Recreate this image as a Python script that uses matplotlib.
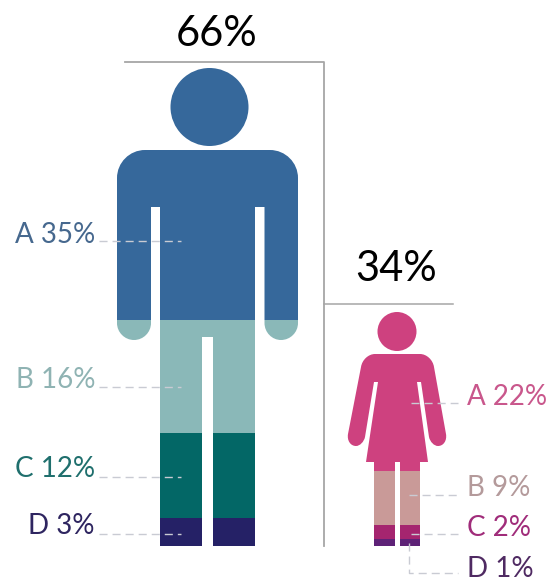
import matplotlib
matplotlib.use("Agg")
import matplotlib.pyplot as plt
from matplotlib.path import Path
from matplotlib.patches import PathPatch

plt.rcParams["font.family"] = ["Lato", "DejaVu Sans"]

# values as printed on the chart
categories = ["A", "B", "C", "D"]
share_men = 66
share_women = 34
men_values = [35, 16, 12, 3]
women_values = [22, 9, 2, 1]

# band edges (top of figure down to the feet)
men_edges = [68, 320, 433, 518, 546]
women_edges = [312, 471, 525, 539, 546]

men_colors = ["#36689B", "#8AB8B8", "#036766", "#252166"]
women_colors = ["#CE417F", "#C99A98", "#A5256F", "#5E2277"]
men_text = ["#46688E", "#8FB3B3", "#1F6F6D", "#2E2560"]
women_text = ["#C9578C", "#B49A9B", "#A02C7A", "#4F2A62"]

K = 0.55


def outline(steps):
    # steps: plain point = line, (corner, end) = rounded corner
    verts = [steps[0]]
    codes = [Path.MOVETO]
    for s in steps[1:]:
        if isinstance(s[0], tuple):
            corner, end = s
            p = verts[-1]
            verts += [(p[0] + K * (corner[0] - p[0]), p[1] + K * (corner[1] - p[1])),
                      (end[0] + K * (corner[0] - end[0]), end[1] + K * (corner[1] - end[1])),
                      end]
            codes += [Path.CURVE4] * 3
        else:
            verts.append(s)
            codes.append(Path.LINETO)
    verts.append(steps[0])
    codes.append(Path.CLOSEPOLY)
    return Path(verts, codes)


def man_path():
    body = outline([(117, 178), ((117, 150), (145, 150)), (270, 150),
                    ((298, 150), (298, 178)), (298, 323),
                    ((298, 340), (281, 340)), ((264.5, 340), (264.5, 323)),
                    (264.5, 207), (255, 207), (255, 546), (213, 546), (213, 337),
                    (202, 337), (202, 546), (160, 546), (160, 207), (151, 207),
                    (151, 323), ((151, 340), (134, 340)), ((117, 340), (117, 323))])
    head = Path.circle((209.5, 107), 39)
    return Path.make_compound_path(body, head)


def woman_path():
    body = outline([(361, 367), ((363, 354), (375, 354)), (420, 354),
                    ((432, 354), (434, 367)), (446, 434),
                    ((448, 446), (438, 446)), ((431, 446), (429, 437)),
                    (421, 382), (417, 382), (428, 462), (420, 462), (420, 546),
                    (400, 546), (400, 462), (395, 462), (395, 546), (374, 546),
                    (374, 462), (366, 462), (378, 382), (374, 382), (365, 437),
                    ((363, 446), (356, 446)), ((346, 446), (348, 434))])
    head = Path.circle((397, 331.5), 19.5)
    return Path.make_compound_path(body, head)


def draw_figure(ax, path, edges, colors, x0, x1):
    clip = PathPatch(path, transform=ax.transData, facecolor="none", edgecolor="none")
    ax.add_patch(clip)
    for i in range(len(colors)):
        bar = ax.bar((x0 + x1) / 2, edges[i + 1] - edges[i], width=x1 - x0,
                     bottom=edges[i], color=colors[i], linewidth=0)
        bar[0].set_clip_path(clip)


fig = plt.figure(figsize=(5.55, 5.81), dpi=100)
ax = fig.add_axes([0, 0, 1, 1])
ax.set_xlim(0, 555)
ax.set_ylim(581, 0)
ax.axis("off")

draw_figure(ax, man_path(), men_edges, men_colors, 110, 305)
draw_figure(ax, woman_path(), women_edges, women_colors, 340, 455)

# bracket lines
ax.plot([125, 324, 324], [61.5, 61.5, 546], color="#A6A6A6", lw=1.3)
ax.plot([324, 453], [303.5, 303.5], color="#A6A6A6", lw=1.1)

ax.text(217, 46, f"{share_men}%", fontsize=30, color="black", ha="center", va="baseline")
ax.text(396, 281, f"{share_women}%", fontsize=30, color="black", ha="center", va="baseline")

dash = (5.8, 3.6)

# labels and dashed leaders, men
men_leader_y = [241, 386.5, 476.5, 534]
men_label_y = [243, 388, 477, 534]
for i in range(4):
    ax.plot([99, 181], [men_leader_y[i]] * 2, color="#C9CBD3", lw=1.0, dashes=dash)
    ax.text(95, men_label_y[i], f"{categories[i]} {men_values[i]}%", fontsize=20,
            color=men_text[i], ha="right", va="baseline")

# labels and dashed leaders, women
women_leader_y = [403, 495, 534]
women_leader_x = [411, 409, 411]
women_label_y = [405, 496, 536, 577]
for i in range(3):
    ax.plot([women_leader_x[i], 458], [women_leader_y[i]] * 2, color="#C9CBD3", lw=1.0,
            dashes=dash)
ax.plot([409, 409, 458], [543, 573, 573], color="#C9CBD3", lw=1.0, dashes=dash)
for i in range(4):
    ax.text(467, women_label_y[i], f"{categories[i]} {women_values[i]}%", fontsize=20,
            color=women_text[i], ha="left", va="baseline")

fig.savefig("out.png", dpi=100)
